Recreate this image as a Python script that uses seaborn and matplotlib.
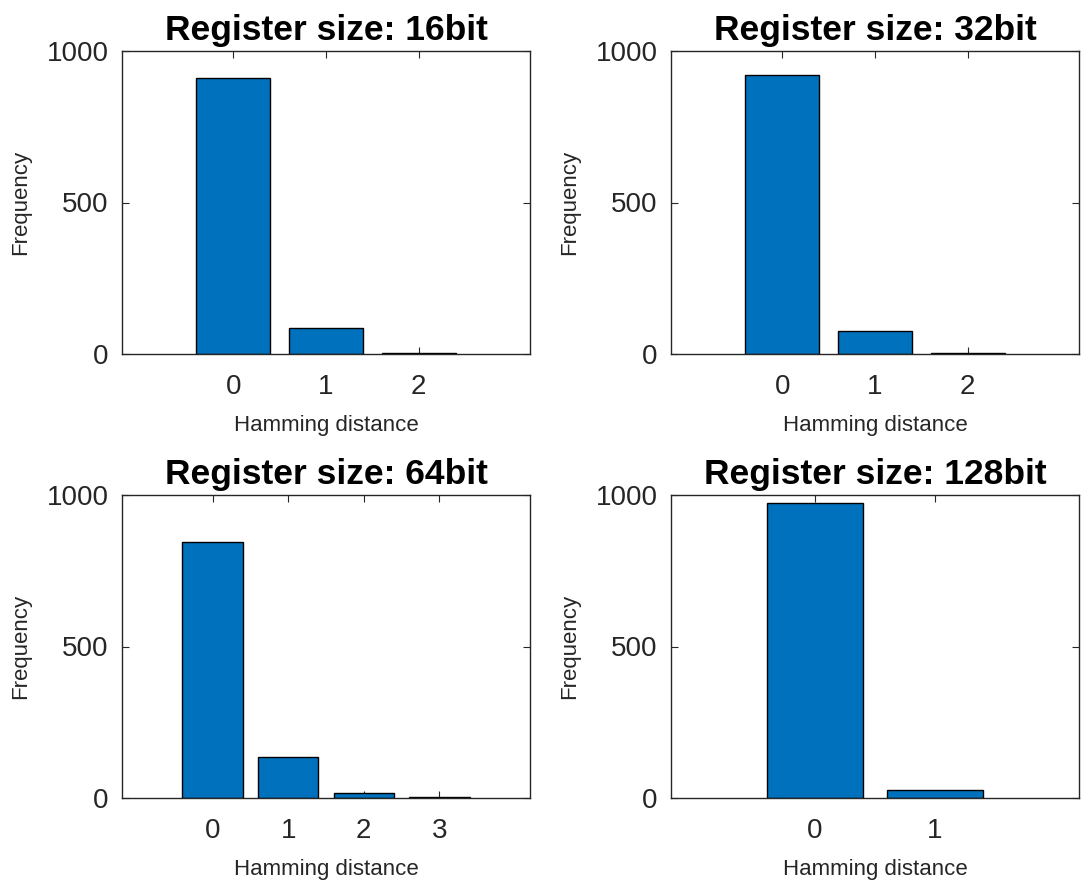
import matplotlib
matplotlib.use("Agg")
import matplotlib.pyplot as plt
import seaborn as sns
import pandas as pd

titles = ["Register size: 16bit", "Register size: 32bit",
          "Register size: 64bit", "Register size: 128bit"]
distances_16 = [0, 1, 2]
freq_16 = [911, 86, 3]
distances_32 = [0, 1, 2]
freq_32 = [921, 76, 3]
distances_64 = [0, 1, 2, 3]
freq_64 = [845, 135, 17, 3]
distances_128 = [0, 1]
freq_128 = [974, 26]

panels = [(distances_16, freq_16), (distances_32, freq_32),
          (distances_64, freq_64), (distances_128, freq_128)]

sns.set_theme(style="ticks")
plt.rcParams['font.family'] = ['Liberation Sans', 'DejaVu Sans']
plt.rcParams['xtick.direction'] = 'in'
plt.rcParams['ytick.direction'] = 'in'

BAR = "#0072BD"
AX = "#262626"

fig = plt.figure(figsize=(10.81, 8.86), dpi=100)
W, H = 1081, 886
boxes = [(122, 51), (671, 51), (122, 495), (671, 495)]
aw, ah = 408, 303

for (x0, y0), title, (d, f) in zip(boxes, titles, panels):
    ax = fig.add_axes([x0 / W, 1 - (y0 + ah) / H, aw / W, ah / H])
    df = pd.DataFrame({"d": d, "f": f})
    sns.barplot(data=df, x="d", y="f", ax=ax, color=BAR, saturation=1,
                edgecolor="black", linewidth=1.0, width=0.8)
    ax.set_xlim(-1.2, len(d) - 1 + 1.2)
    ax.set_ylim(0, 1000)
    ax.set_yticks([0, 500, 1000])
    ax.set_xticks(range(len(d)))
    ax.set_xticklabels([str(v) for v in d])
    ax.tick_params(axis='both', which='both', direction='in', top=True, right=True,
                   labelsize=20, colors=AX, length=5, width=0.8)
    ax.tick_params(axis='x', pad=14.5)
    ax.tick_params(axis='y', pad=9.5)
    for s in ax.spines.values():
        s.set_visible(True)
        s.set_color(AX)
        s.set_linewidth(1.0)
    ax.set_xlabel("Hamming distance", fontsize=16, color=AX, labelpad=11)
    ax.set_ylabel("Frequency", fontsize=16, color=AX, labelpad=11.5)
    ax.set_title(title, fontsize=25.5, fontweight="bold", color="black", pad=8)

fig.savefig("out.png", dpi=100)
